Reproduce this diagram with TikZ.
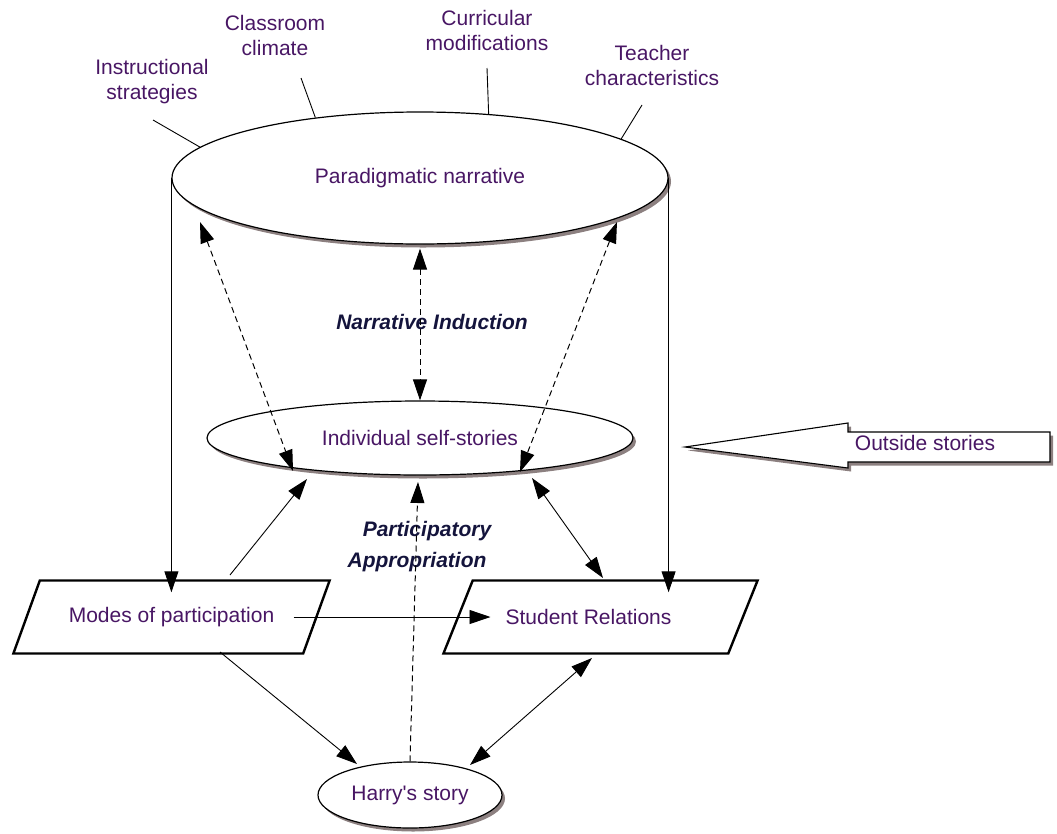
\documentclass[tikz,border=0pt]{standalone}
\usepackage{fontspec}
\setmainfont{Liberation Sans}
\usetikzlibrary{shapes.geometric,arrows.meta,calc,shadows}
\definecolor{txt}{RGB}{72,22,100}
\definecolor{lbl}{RGB}{20,20,60}
\definecolor{shd}{RGB}{140,128,128}
\begin{document}
\begin{tikzpicture}[x=1pt,y=-1pt,
  every node/.style={font=\fontsize{21}{25}\selectfont, text=txt},
  oval/.style={ellipse, draw, line width=1.2pt, fill=white, inner sep=0pt,
    drop shadow={shadow xshift=3pt,shadow yshift=-3.5pt,fill=shd,opacity=1}},
  para/.style={trapezium, trapezium left angle=43.5, trapezium right angle=136.5,
    trapezium stretches=true, draw, line width=2.4pt, fill=white, inner sep=0pt,
    minimum height=73pt},
  topl/.style={align=center, inner sep=0pt},
  bi/.style={font=\fontsize{21}{31}\selectfont\bfseries\itshape, text=lbl, inner sep=0pt, align=center},
  conn/.style={line width=0.9pt},
  arr/.style={-{Triangle[length=21pt,width=14pt]}},
  darr/.style={{Triangle[length=21pt,width=14pt]}-{Triangle[length=21pt,width=14pt]}},
  dsh/.style={dash pattern=on 6pt off 4pt, line width=1pt},
]
\useasboundingbox (0,0) rectangle (1057,833);

% main nodes
\node[oval, minimum width=496pt, minimum height=132pt] (pn) at (420,178) {Paradigmatic narrative};
\node[oval, minimum width=426pt, minimum height=74pt] (is) at (420,438) {Individual self-stories};
\node[oval, minimum width=184pt, minimum height=66pt] (hs) at (410,795) {Harry\textquotesingle s story};
\node[para, minimum width=317pt] (mp) at (171.5,617) {Modes of participation};
\node[para, minimum width=315pt] (sr) at (600.5,617) {\hspace*{-24pt}Student Relations};

% top labels
\node[topl] (ins) at (152,82) {Instructional\\strategies};
\node[topl] (cc) at (275,35) {Classroom\\climate};
\node[topl] (cm) at (487,30) {Curricular\\modifications};
\node[topl] (tc) at (652,65) {Teacher\\characteristics};

\draw[conn] ($(ins.center)+(1,38)$) -- (pn.172);
\draw[conn] ($(cc.center)+(26,43)$) -- (pn.150);
\draw[conn] ($(cm.center)+(0,38)$) -- (pn.43.5);
\draw[conn] ($(tc.center)+(-10,40)$) -- (pn.11.4);

% bold labels
\node[bi] (ni) at (432,322) {Narrative Induction};
\node[bi] (pa) at (417,547) {\hspace*{20pt}Participatory\\Appropriation};

% vertical arrows
\draw[conn,arr] (pn.west) -- ($(pn.west |- mp.north)+(0,13)$);
\draw[conn,arr] (pn.east) -- ($(pn.east |- sr.north)+(0,13)$);

% narrative induction dashed arrows
\draw[dsh,darr] ($(pn.center)+(-220,44)$) -- ($(is.center)+(-127,33)$);
\draw[dsh,darr] ($(pn.south)+(0,4)$) -- (is.north);
\draw[dsh,darr] ($(pn.center)+(197,44)$) -- ($(is.center)+(100,34)$);

% solid connectors
\draw[conn,arr] ($(mp.center)+(58.5,-42)$) -- ($(is.center)+(-113,41)$);
\draw[conn,darr] ($(is.center)+(112,40)$) -- ($(sr.center)+(2.5,-39)$);
\draw[conn,arr] ($(mp.center)+(122,0)$) -- ($(sr.center)+(-110,0)$);
\draw[conn,arr] ($(mp.center)+(48.5,35)$) -- ($(hs.center)+(-53,-31)$);
\draw[conn,darr] ($(sr.center)+(-8.5,41)$) -- ($(hs.center)+(60,-30)$);
\draw[dsh,arr] (hs.north) -- ($(is.center)+(-2,44)$);

% outside stories block arrow
\coordinate (ot) at (685,447);
\path[draw, line width=1.1pt, fill=white,
  drop shadow={shadow xshift=3pt,shadow yshift=-3.5pt,fill=shd,opacity=1}]
  (ot) -- (848,423) -- (848,432) -- (1050,432) -- (1050,462) -- (848,462) -- (848,468) -- cycle;
\node (os) at (925,443) {Outside stories};
\end{tikzpicture}
\end{document}
